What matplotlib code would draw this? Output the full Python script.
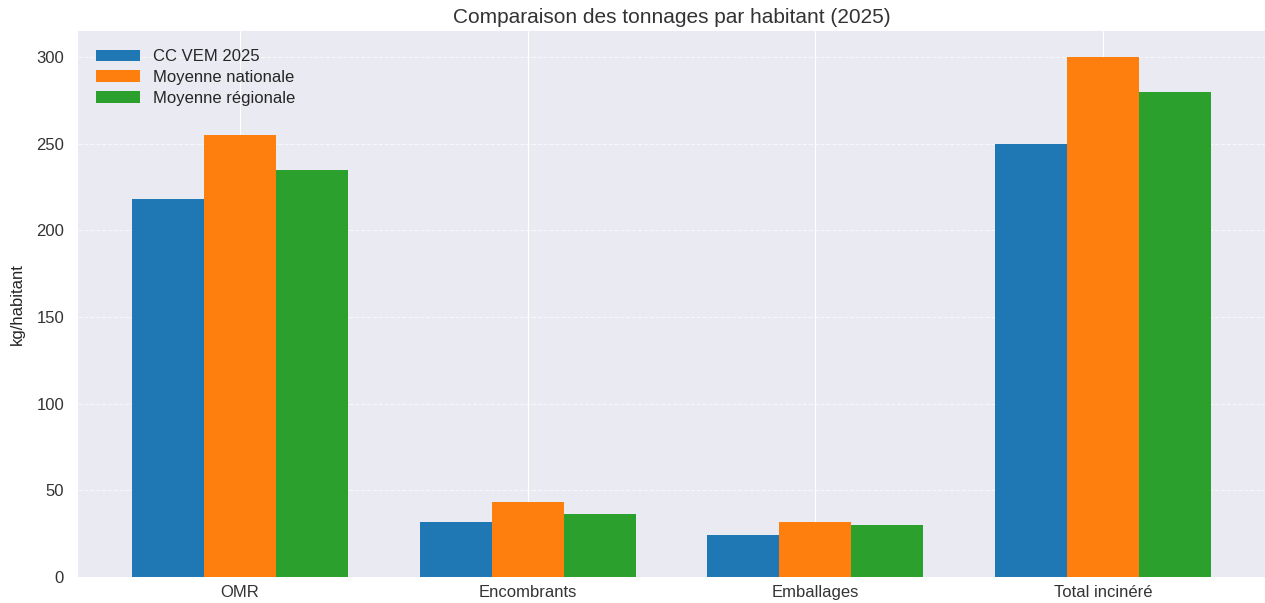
import matplotlib
matplotlib.use("Agg")
import matplotlib.pyplot as plt
import numpy as np

categories = ["OMR", "Encombrants", "Emballages", "Total incinéré"]
series_names = ["CC VEM 2025", "Moyenne nationale", "Moyenne régionale"]
cc_vem = [218, 32, 24, 250]
nationale = [255, 43, 32, 300]
regionale = [235, 36.5, 30, 280]
colors = ["#1f77b4", "#ff7f0e", "#2ca02c"]

plt.style.use("seaborn-v0_8-darkgrid")
plt.rcParams["font.family"] = ["Liberation Sans", "DejaVu Sans"]

fig = plt.figure(figsize=(12.65, 6.03), dpi=100)
ax = fig.add_axes([78/1265, 26/603, 1 - 78/1265, (577-31)/603])

x = np.arange(len(categories))
w = 0.25
for i, (vals, name) in enumerate(zip([cc_vem, nationale, regionale], series_names)):
    ax.bar(x + (i - 1) * w, vals, w, label=name, color=colors[i])

ax.set_xticks(x)
ax.set_xticklabels(categories, fontsize=12, color="#333333")
ax.tick_params(axis="y", labelsize=12, labelcolor="#333333", pad=10)
ax.tick_params(axis="x", pad=6)
ax.set_ylabel("kg/habitant", fontsize=12)
ax.yaxis.set_label_coords(-0.045, 0.5)
ax.set_title("Comparaison des tonnages par habitant (2025)", fontsize=15, color="#333333", pad=6)
ax.grid(axis="y", linestyle="--", alpha=0.7)
ax.legend(loc="upper left", fontsize=12, handlelength=2.6, borderaxespad=0.7, labelspacing=0.35)

fig.savefig("out.png", dpi=100)
